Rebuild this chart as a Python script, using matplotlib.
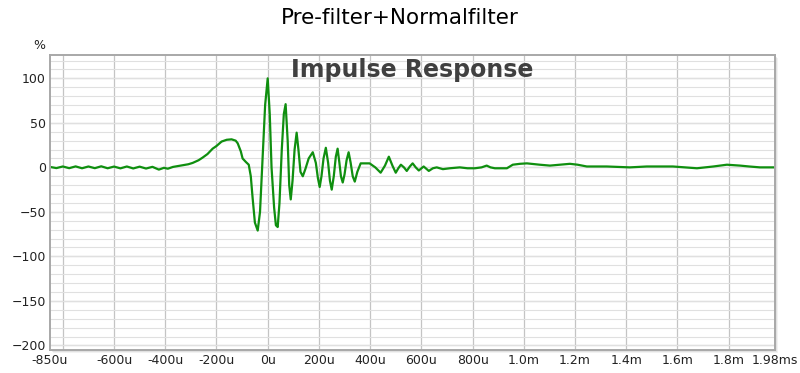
import numpy as np
import matplotlib
matplotlib.use("Agg")
import matplotlib.pyplot as plt
from matplotlib.ticker import MultipleLocator
from matplotlib.patches import Rectangle

# time in microseconds, amplitude in %
t_us = [-850, -825, -800, -775, -750, -725, -700, -675, -650, -625, -600, -575, -550,
        -525, -500, -475, -450, -425, -405, -390, -370, -350, -332, -310, -293, -270,
        -254, -235, -215, -200, -180, -160, -141, -125, -117, -105, -98, -85, -74, -66,
        -59, -50, -39, -30, -20, -10, 0, 8, 15, 25, 32, 39, 46, 55, 63, 70, 78, 84, 90,
        97, 105, 113, 120, 128, 137, 147, 160, 176, 188, 196, 203, 210, 218, 227, 236,
        243, 250, 258, 266, 273, 280, 286, 293, 300, 308, 316, 324, 332, 340, 350, 363,
        398, 420, 441, 458, 473, 487, 500, 510, 520, 532, 543, 555, 566, 578, 590, 609,
        629, 645, 660, 684, 711, 750, 780, 809, 835, 855, 870, 887, 934, 957, 985, 1012,
        1062, 1102, 1140, 1180, 1210, 1246, 1324, 1414, 1480, 1582, 1630, 1676, 1740,
        1793, 1844, 1880, 1922, 1980]
amp = [0.5, -0.8, 1.0, -0.9, 1.1, -1.0, 1.0, -0.9, 1.2, -1.0, 0.9, -1.1, 1.0,
       -1.2, 0.8, -1.3, 0.6, -2.5, -0.5, -1.5, 0.5, 1.5, 2.5, 3.5, 5, 8,
       11, 15, 21, 24, 29, 31, 31.5, 30, 27, 18, 10, 6, 3, -10,
       -34, -62, -71, -50, 10, 70, 100, 60, 0, -45, -65, -67, -40, 20, 60, 71, 30, -20, -36,
       -15, 20, 39, 20, -5, -10, -2, 10, 17, 5, -12, -22, -10, 10, 22, 5,
       -15, -25, -10, 12, 21, 5, -10, -17, -8, 8, 17, 5, -10, -16, -5, 4.5,
       4.5, 0, -6, 2, 12, 2, -6, -1, 3, 0, -4, 1, 4.5, 0, -3.5, 1,
       -4, -1, 0, -2, -1, 0, -1, -1, 0, 2, 0, -1, -1, 3, 4, 4.5,
       3, 2, 3, 4, 3, 1, 1, 0, 1, 1, 0, -1, 1,
       3, 2, 1, 0, 0]

xtick_pos = [-850, -600, -400, -200, 0, 200, 400, 600, 800, 1000, 1200, 1400, 1600, 1800, 1980]
xtick_lab = ["-850u", "-600u", "-400u", "-200u", "0u", "200u", "400u", "600u", "800u",
             "1.0m", "1.2m", "1.4m", "1.6m", "1.8m", "1.98ms"]
ytick_pos = [-200, -150, -100, -50, 0, 50, 100]

fig = plt.figure(figsize=(8, 3.73), dpi=100)
ax_rect = [0.0625, 0.062, 0.906, 0.79]

# soft frame shadow
for off, a in [(3, 0.10), (2, 0.15), (1, 0.2)]:
    fig.patches.append(Rectangle((ax_rect[0] + off / 800, ax_rect[1] - off / 373),
                                 ax_rect[2], ax_rect[3], transform=fig.transFigure,
                                 facecolor="#808080", alpha=a, edgecolor="none", zorder=0))

ax = fig.add_axes(ax_rect)
ax.set_zorder(1)

ax.plot(t_us, amp, color="#0f8f0f", lw=1.6, solid_joinstyle="round")

ax.set_xlim(-850, 1980)
ax.set_ylim(-205, 126)

ax.xaxis.remove_overlapping_locs = False
ax.yaxis.remove_overlapping_locs = False
ax.set_xticks(xtick_pos)
ax.set_xticklabels(xtick_lab)
ax.xaxis.set_minor_locator(MultipleLocator(200))
ax.set_yticks(ytick_pos)
ax.yaxis.set_minor_locator(MultipleLocator(10))

ax.grid(False)
ax.grid(which="minor", axis="x", color="#c4c4c4", lw=0.9)
ax.grid(which="minor", axis="y", color="#e0e0e0", lw=0.8)
ax.grid(which="major", axis="y", color="#c4c4c4", lw=0.9)
ax.set_axisbelow(True)

ax.tick_params(which="both", length=0, labelsize=9, colors="#222222", pad=3)
for s in ax.spines.values():
    s.set_color("#a8a8a8")
    s.set_linewidth(1.4)

fig.text(0.5, 0.952, "Pre-filter+Normalfilter", ha="center", va="center", fontsize=15.5)
ax.text(0.5, 0.95, "Impulse Response", transform=ax.transAxes, ha="center", va="center",
        fontsize=17, fontweight="bold", color="#404040")
fig.text(0.049, 0.878, "%", ha="center", va="center", fontsize=9, color="#222222")

fig.savefig("out.png", dpi=100)
